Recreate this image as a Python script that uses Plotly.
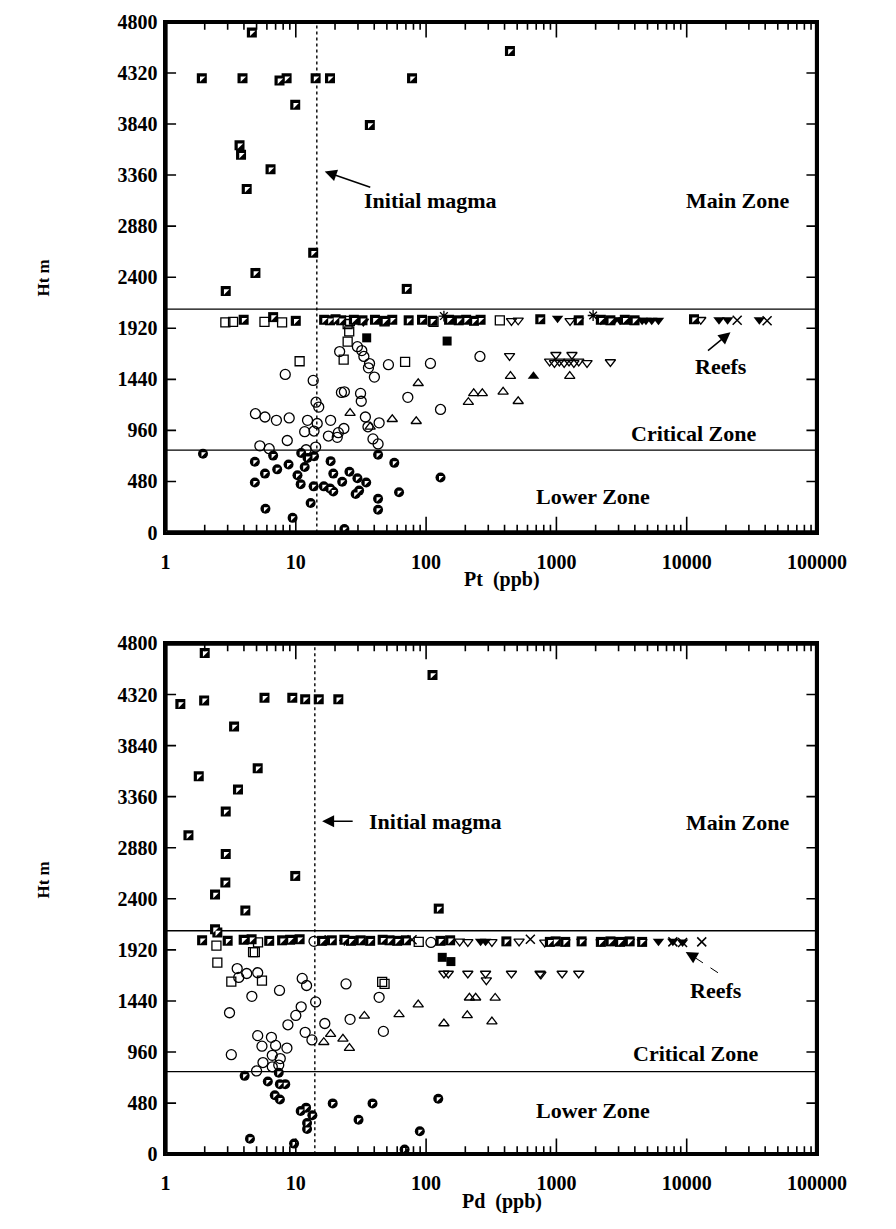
import plotly.graph_objects as go

# ================= DATA : Pt (upper panel) =================
pt_hsq_x = [4.6, 1.9, 3.9, 7.5, 8.5, 14.2, 18.3, 78, 440, 9.9, 37, 3.7, 3.8, 6.4, 4.2, 13.6, 4.9, 71, 2.9,
            3.98, 6.7, 10, 16.5, 18.3, 20.2, 22.3, 27.9, 32.5, 40.5, 48, 55, 73.5, 93, 112, 150, 178, 203,
            233, 262, 752, 1483, 2193, 2596, 3350, 3980, 11380]
pt_hsq_y = [4700, 4270, 4270, 4250, 4270, 4270, 4270, 4270, 4525, 4020, 3830, 3640, 3550, 3415, 3230, 2630,
            2440, 2290, 2270,
            2000, 2025, 1990, 2000, 1995, 2005, 1995, 2000, 1995, 2000, 1990, 2000, 1995, 2000, 1990, 2000,
            1995, 2000, 1990, 2000, 2005, 1995, 2000, 1995, 2000, 1995, 2005]
pt_osq_x = [2.88, 3.3, 5.75, 7.85, 26, 48, 114, 368, 25, 25.7, 25, 23.3, 10.7, 69]
pt_osq_y = [1975, 1980, 1980, 1975, 1990, 1985, 1980, 1995, 1960, 1890, 1795, 1625, 1610, 1605]
pt_fsq_x = [35, 145]
pt_fsq_y = [1830, 1800]
pt_oc_x = [21.7, 29.7, 32.1, 33.3, 36.8, 36.1, 40.1, 51.4, 108, 259, 8.3, 13.6, 22.4, 23.6, 31.4, 31.8, 72.4,
           129, 14.3, 15, 4.9, 5.8, 7.1, 8.9, 12.3, 14.6, 18.5, 11.7, 13.8, 17.8, 20.8, 21.2, 23.4, 34.2, 35.8,
           43.6, 39.1, 42.8, 8.6, 5.3, 6.25, 14.2, 12]
pt_oc_y = [1701, 1747, 1710, 1655, 1588, 1548, 1461, 1578, 1590, 1655, 1486, 1430, 1317, 1323, 1308, 1234, 1271,
           1157, 1225, 1179, 1117, 1086, 1055, 1077, 1055, 1025, 1055, 948, 954, 907, 895, 939, 978, 1086, 994,
           1031, 880, 833, 865, 815, 788, 803, 778]
pt_otu_x = [26.1, 37.2, 55, 84, 87, 211, 232, 270, 390, 509, 444, 1266]
pt_otu_y = [1123, 994, 1065, 1046, 1403, 1225, 1308, 1308, 1323, 1234, 1470, 1470]
pt_ftu_x = [667]
pt_ftu_y = [1470]
pt_otd_x = [437, 887, 966, 1053, 1147, 1250, 1362, 1484, 1718, 991, 1316, 2596, 509, 452, 1273, 12820, 33]
pt_otd_y = [1661, 1609, 1594, 1609, 1594, 1609, 1594, 1609, 1594, 1671, 1671, 1603, 1995, 1990, 1990, 2000, 1985]
pt_ftd_x = [1021, 1483, 2193, 2400, 2800, 3076, 3300, 3648, 4000, 4550, 4868, 5392, 6072, 17700, 20600, 36100]
pt_ftd_y = [2015, 1995, 1995, 2000, 2000, 1995, 2000, 1995, 2000, 1995, 1995, 1995, 1995, 2000, 2000, 2000]
pt_x_x = [24400, 41400]
pt_x_y = [1995, 1990]
pt_ast_x = [1913, 137]
pt_ast_y = [2040, 2035]
pt_hc_x = [1.94, 4.85, 5.8, 4.85, 6.7, 7.2, 8.8, 10.3, 10.9, 11.7, 11, 12.3, 13.8, 13.7, 16.4, 18.3, 19.4, 18.5,
           19.4, 22.7, 25.8, 29.7, 34.7, 30.6, 28.8, 42.8, 57, 62, 42.8, 42.8, 13, 5.85, 9.45, 23.6, 129]
pt_hc_y = [741, 665, 554, 471, 723, 594, 640, 538, 455, 616, 748, 701, 717, 434, 434, 415, 385, 671, 554, 477,
           572, 510, 471, 394, 363, 732, 655, 378, 317, 215, 277, 224, 138, 34, 517]

# ================= DATA : Pd (lower panel) =================
pd_hsq_x = [2.0, 1.3, 1.98, 5.75, 9.4, 11.8, 15, 21.2, 112, 3.36, 5.1, 1.8, 3.6, 2.9, 1.5, 2.9, 9.9, 2.88, 2.4,
            4.1, 125, 2.4, 2.5,
            1.91, 3.0, 3.98, 4.58, 6.25, 7.85, 9.04, 10.7, 15.9, 18.9, 23.6, 26.5, 31.4, 37.2, 46.4, 52.4, 60,
            70, 129, 153, 413, 891, 986, 1169, 1561, 2193, 2600, 3076, 3650, 4550]
pd_hsq_y = [4710, 4230, 4265, 4290, 4290, 4276, 4276, 4276, 4504, 4020, 3627, 3551, 3427, 3221, 2997, 2822, 2615,
            2554, 2440, 2289, 2308, 2114, 2083,
            2010, 2005, 2015, 2020, 2005, 2010, 2015, 2020, 2005, 2010, 2015, 2005, 2010, 2005, 2015, 2010, 2005,
            2010, 2005, 2010, 2000, 1995, 2000, 1995, 2000, 1995, 2000, 1995, 2000, 1995]
pd_osq_x = [2.46, 4.7, 5.13, 87.8, 2.5, 3.2, 5.5, 48, 46, 4.85]
pd_osq_y = [1960, 1898, 1990, 1995, 1800, 1622, 1631, 1600, 1620, 1899]
pd_fsq_x = [133, 155]
pd_fsq_y = [1850, 1810]
pd_oc_x = [3.55, 3.65, 4.2, 5.1, 4.6, 7.5, 3.1, 11.2, 12.1, 14.2, 11, 10, 8.7, 11.8, 13.3, 16.7, 24.3, 26.1, 43.6,
           47, 5.1, 5.5, 6.5, 7, 6.6, 8.55, 7.6, 3.2, 5.6, 6.6, 5, 7.4, 13.8, 109]
pd_oc_y = [1744, 1661, 1698, 1705, 1483, 1539, 1329, 1652, 1585, 1431, 1385, 1304, 1216, 1145, 1074, 1228, 1600,
           1267, 1474, 1154, 1114, 1015, 1098, 1022, 929, 997, 898, 935, 861, 821, 782, 837, 2000, 1990]
pd_otu_x = [16.4, 18.5, 23, 25.8, 33.6, 62, 87, 137, 207, 215, 240, 339, 320]
pd_otu_y = [1052, 1129, 1083, 997, 1299, 1313, 1406, 1228, 1304, 1470, 1470, 1468, 1246]
pd_otd_x = [137, 148, 209, 286, 290, 452, 749, 760, 1107, 1484, 181, 209, 320, 517, 814]
pd_otd_y = [1698, 1698, 1698, 1698, 1636, 1698, 1698, 1690, 1698, 1698, 2000, 1995, 1995, 2000, 1990]
pd_ftd_x = [262, 286, 1169, 1561, 2193, 2600, 3076, 3650, 4550, 6072, 7830, 9290]
pd_ftd_y = [2000, 2000, 1995, 2000, 1995, 2000, 1995, 2000, 1995, 2000, 2000, 1995]
pd_x_x = [631, 78, 7830, 9290, 13040]
pd_x_y = [2020, 2015, 1995, 1990, 1995]
pd_ast_x = [16.8, 23.6]
pd_ast_y = [2010, 2010]
pd_hc_x = [4.05, 6.1, 7.4, 7.55, 8.3, 6.9, 7.55, 12, 10.9, 13.4, 12.2, 12.2, 19.2, 38.8, 30.3, 124, 89.5, 4.45,
           9.7, 68.4]
pd_hc_y = [736, 683, 766, 658, 658, 554, 514, 437, 406, 366, 293, 237, 477, 477, 323, 520, 215, 145, 99, 43]

# zone boundaries / initial magma
zone_bounds = [2100, 775]
magma_pt = 14.5
magma_pd = 14.0

# axes
X_MIN, X_MAX = 1, 100000
Y_MIN, Y_MAX = 0, 4800
major_x = [1, 10, 100, 1000, 10000, 100000]
major_text_x = ["1", "10", "100", "1000", "10000", "100000"]
minor_x = [d * 10 ** k for k in range(5) for d in range(2, 10)]
tick_vals_y = [0, 480, 960, 1440, 1920, 2400, 2880, 3360, 3840, 4320, 4800]

FONT = "Liberation Serif"
X_DOM = [0.1864, 0.9431]
Y_DOMS = {"y": [0.5679, 0.9910], "y2": [0.0529, 0.4760]}
FIG_W, FIG_H = 896, 1229

fig = go.Figure()
shapes = []


def sc(x, y, xa, ya, **marker):
    fig.add_trace(go.Scatter(x=x, y=y, xaxis=xa, yaxis=ya, mode="markers", marker=marker,
                             showlegend=False, hoverinfo="skip"))


def line(x, y, xa, ya, width=1.3, dash="solid"):
    fig.add_trace(go.Scatter(x=x, y=y, xaxis=xa, yaxis=ya, mode="lines",
                             line=dict(color="black", width=width, dash=dash), showlegend=False,
                             hoverinfo="skip"))


def frame(xa, ya):
    shapes.append(dict(type="rect", xref=xa + " domain", yref=ya + " domain", x0=0, x1=1, y0=0, y1=1,
                       line=dict(color="black", width=2), layer="above"))
    dom = Y_DOMS[ya]
    ppx_y = (dom[1] - dom[0]) * FIG_H / (Y_MAX - Y_MIN)          # px per y unit
    ppx_x = (X_DOM[1] - X_DOM[0]) * FIG_W / 5.0                   # px per decade
    # border drawn just inside the plot area so it is never clipped
    ix = 10 ** (1.2 / ppx_x)
    iy = 1.2 / ppx_y
    line([X_MIN * ix, X_MAX / ix, X_MAX / ix, X_MIN * ix, X_MIN * ix],
         [Y_MIN + iy, Y_MIN + iy, Y_MAX - iy, Y_MAX - iy, Y_MIN + iy], xa, ya, width=2)
    # inside ticks, one segment per tick
    for v in major_x[1:-1] + minor_x:
        ln = (16 if v in major_x else 8) / ppx_y
        line([v, v], [Y_MIN, Y_MIN + ln], xa, ya, width=1.6)
        line([v, v], [Y_MAX, Y_MAX - ln], xa, ya, width=1.6)
    fy = 10 ** (11 / ppx_x)
    for v in tick_vals_y[1:-1]:
        line([X_MIN, X_MIN * fy], [v, v], xa, ya, width=1.6)
        line([X_MAX, X_MAX / fy], [v, v], xa, ya, width=1.6)


def panel(xa, ya, d, magma):
    for yb in zone_bounds:
        line([X_MIN, X_MAX], [yb, yb], xa, ya, width=1.3)
    line([magma, magma], [Y_MIN, Y_MAX], xa, ya, width=1.4, dash="dot")
    blk = dict(color="black", width=1.3)
    sc(d["oc"][0], d["oc"][1], xa, ya, symbol="circle-open", size=10, color="black", line=blk)
    sc(d["osq"][0], d["osq"][1], xa, ya, symbol="square-open", size=9, color="black", line=blk)
    sc(d["otu"][0], d["otu"][1], xa, ya, symbol="triangle-up-open", size=9, color="black", line=blk)
    sc(d["otd"][0], d["otd"][1], xa, ya, symbol="triangle-down-open", size=9, color="black", line=blk)
    sc(d["ftd"][0], d["ftd"][1], xa, ya, symbol="triangle-down", size=10, color="black", line=dict(width=0))
    if d.get("ftu"):
        sc(d["ftu"][0], d["ftu"][1], xa, ya, symbol="triangle-up", size=10, color="black", line=dict(width=0))
    sc(d["fsq"][0], d["fsq"][1], xa, ya, symbol="square", size=9, color="black", line=dict(width=0))
    sc(d["x"][0], d["x"][1], xa, ya, symbol="x-thin-open", size=9, color="black", line=dict(color="black", width=1.5))
    sc(d["ast"][0], d["ast"][1], xa, ya, symbol="asterisk-open", size=9, color="black", line=dict(color="black", width=1.3))
    # half-filled squares
    sc(d["hsq"][0], d["hsq"][1], xa, ya, symbol="square", size=10, color="black", line=dict(width=0))
    sc(d["hsq"][0], d["hsq"][1], xa, ya, symbol="triangle-nw", size=6, color="white", line=dict(width=0))
    # half-filled circles
    sc(d["hc"][0], d["hc"][1], xa, ya, symbol="circle", size=10, color="black", line=dict(width=0))
    sc(d["hc"][0], d["hc"][1], xa, ya, symbol="triangle-nw", size=5, color="white", line=dict(width=0))
    frame(xa, ya)


panel("x", "y", dict(hsq=(pt_hsq_x, pt_hsq_y), osq=(pt_osq_x, pt_osq_y), fsq=(pt_fsq_x, pt_fsq_y),
                     oc=(pt_oc_x, pt_oc_y), otu=(pt_otu_x, pt_otu_y), ftu=(pt_ftu_x, pt_ftu_y),
                     otd=(pt_otd_x, pt_otd_y), ftd=(pt_ftd_x, pt_ftd_y), x=(pt_x_x, pt_x_y),
                     ast=(pt_ast_x, pt_ast_y), hc=(pt_hc_x, pt_hc_y)), magma_pt)
panel("x2", "y2", dict(hsq=(pd_hsq_x, pd_hsq_y), osq=(pd_osq_x, pd_osq_y), fsq=(pd_fsq_x, pd_fsq_y),
                       oc=(pd_oc_x, pd_oc_y), otu=(pd_otu_x, pd_otu_y),
                       otd=(pd_otd_x, pd_otd_y), ftd=(pd_ftd_x, pd_ftd_y), x=(pd_x_x, pd_x_y),
                       ast=(pd_ast_x, pd_ast_y), hc=(pd_hc_x, pd_hc_y)), magma_pd)

# dashed shaft of the lower "Reefs" arrow
line([10 ** 4.24, 10 ** 4.06], [1705, 1850], "x2", "y2", width=1, dash="dash")

tickfont = dict(family=FONT, size=20, color="black", weight="bold")
xax = dict(type="log", range=[0, 5], domain=X_DOM, showline=True, linecolor="black", linewidth=2,
           mirror=True, ticks="", tickmode="array", tickvals=major_x, ticktext=major_text_x, tickfont=tickfont,
           showgrid=False, zeroline=False, ticklabelstandoff=10)
yax = dict(range=[Y_MIN, Y_MAX], showline=True, linecolor="black", linewidth=2, mirror=True, ticks="",
           tickmode="array", tickvals=tick_vals_y, tickfont=tickfont, showgrid=False, zeroline=False,
           ticklabelstandoff=2)

fig.update_layout(
    width=FIG_W, height=FIG_H, margin=dict(l=0, r=0, t=0, b=0),
    paper_bgcolor="white", plot_bgcolor="white",
    xaxis=dict(xax, anchor="y"),
    yaxis=dict(yax, domain=Y_DOMS["y"], anchor="x"),
    xaxis2=dict(xax, anchor="y2"),
    yaxis2=dict(yax, domain=Y_DOMS["y2"], anchor="x2"),
    shapes=shapes,
)

afont = dict(family=FONT, size=22, color="black", weight="bold")
ann = []


def txt(xr, yr, x, y, t, xanchor="center", size=22):
    ann.append(dict(xref=xr, yref=yr, x=x, y=y, text=t, showarrow=False, xanchor=xanchor, yanchor="middle",
                    font=dict(afont, size=size)))


def arrow(xr, yr, x, y, ax, ay, head=2):
    ann.append(dict(xref=xr, yref=yr, axref=xr, ayref=yr, x=x, y=y, ax=ax, ay=ay, text="", showarrow=True,
                    arrowhead=head, arrowsize=1.6, arrowwidth=1.5, arrowcolor="black"))


# upper panel texts (x in log10 units)
txt("x", "y", 1.51, 3120, "Initial magma", xanchor="left")
arrow("x", "y", 1.222, 3394, 1.583, 3240)
txt("x", "y", 4.395, 3120, "Main Zone")
txt("x", "y", 4.263, 1560, "Reefs")
arrow("x", "y", 4.336, 1883, 4.152, 1698)
txt("x", "y", 4.054, 932, "Critical Zone")
txt("x", "y", 3.282, 342, "Lower Zone")
# lower panel texts
txt("x2", "y2", 1.546, 3129, "Initial magma", xanchor="left")
arrow("x2", "y2", 1.202, 3129, 1.448, 3129)
txt("x2", "y2", 4.395, 3120, "Main Zone")
txt("x2", "y2", 4.226, 1541, "Reefs")
arrow("x2", "y2", 3.992, 1899, 4.07, 1845)
txt("x2", "y2", 4.066, 944, "Critical Zone")
txt("x2", "y2", 3.284, 406, "Lower Zone")
# axis titles
for yy in (0.7787, 0.2799):
    ann.append(dict(xref="paper", yref="paper", x=0.0446, y=yy, text="Ht m", textangle=-90, showarrow=False,
                    xanchor="center", yanchor="middle", font=dict(afont, size=17)))
ann.append(dict(xref="paper", yref="paper", x=0.577, y=0.529, text="Pt  (ppb)", showarrow=False,
                xanchor="center", yanchor="middle", font=dict(afont, size=20)))
ann.append(dict(xref="paper", yref="paper", x=0.577, y=0.0138, text="Pd  (ppb)", showarrow=False,
                xanchor="center", yanchor="middle", font=dict(afont, size=20)))
fig.update_layout(annotations=ann)

fig.write_html("out.html")
